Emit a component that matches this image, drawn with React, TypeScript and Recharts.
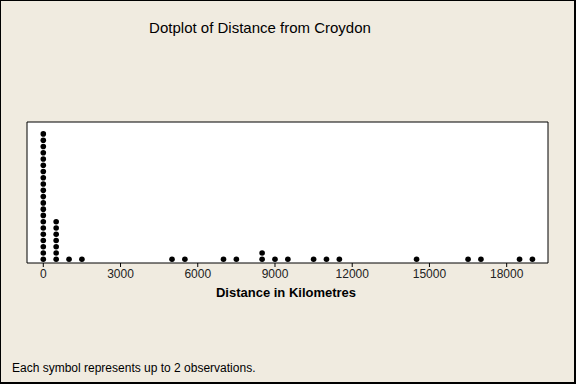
import React from "react";
import { ScatterChart, Scatter, XAxis, YAxis, ReferenceArea } from "recharts";

// Bin positions (km) and number of symbols stacked in each bin
const binDistances = [0, 500, 1000, 1500, 5000, 5500, 7000, 7500, 8500, 9000, 9500, 10500, 11000, 11500, 14500, 16500, 17000, 18500, 19000];
const symbolCounts = [21, 7, 1, 1, 1, 1, 1, 1, 2, 1, 1, 1, 1, 1, 1, 1, 1, 1, 1];
const xTicks = [0, 3000, 6000, 9000, 12000, 15000, 18000];

const title = "Dotplot of Distance from Croydon";
const xLabel = "Distance in Kilometres";
const footnote = "Each symbol represents up to 2 observations.";

const points: { x: number; level: number }[] = [];
binDistances.forEach((d, i) => {
  for (let k = 0; k < symbolCounts[i]; k++) points.push({ x: d, level: k });
});

const X_MIN = -633;
const X_MAX = 19605;
const Y_MIN = -0.59;
const Y_MAX = 21.9;
const FONT = "'Liberation Sans', Arial, sans-serif";

const Dot = (props: any) => <circle cx={props.cx} cy={props.cy} r={2.8} fill="#000" />;

export default function App() {
  return (
    <div style={{ position: "absolute", left: 0, top: 0, width: 576, height: 384, background: "#F0EBE0", fontFamily: FONT }}>
      <div style={{ position: "absolute", left: 0, top: 0 }}>
        <ScatterChart width={576} height={384} margin={{ top: 122, right: 28, bottom: 91, left: 27 }}>
          <XAxis
            type="number"
            dataKey="x"
            domain={[X_MIN, X_MAX]}
            ticks={xTicks}
            allowDataOverflow
            height={30}
            axisLine={false}
            tickLine={{ stroke: "#000" }}
            tickSize={4}
            tick={{ fontSize: 12, fill: "#222", fontFamily: FONT }}
            interval={0}
          />
          <YAxis type="number" dataKey="level" domain={[Y_MIN, Y_MAX]} allowDataOverflow hide width={0} />
          <ReferenceArea x1={X_MIN} x2={X_MAX} y1={Y_MIN} y2={Y_MAX} fill="#fff" fillOpacity={1} stroke="#000" strokeWidth={1} />
          <Scatter data={points} shape={Dot} isAnimationActive={false} />
        </ScatterChart>
      </div>
      <div style={{ position: "absolute", left: 260, top: 20, transform: "translateX(-50%)", whiteSpace: "nowrap", fontSize: 15, lineHeight: "15px", color: "#000" }}>
        {title}
      </div>
      <div style={{ position: "absolute", left: 286, top: 286, transform: "translateX(-50%)", whiteSpace: "nowrap", fontSize: 13, lineHeight: "13px", fontWeight: "bold", color: "#000" }}>
        {xLabel}
      </div>
      <div style={{ position: "absolute", left: 12, top: 361.5, whiteSpace: "nowrap", fontSize: 12, lineHeight: "12px", color: "#000" }}>
        {footnote}
      </div>
      <div
        style={{
          position: "absolute",
          left: 0,
          top: 0,
          width: 576,
          height: 384,
          boxSizing: "border-box",
          borderTop: "1px solid #000",
          borderLeft: "1px solid #000",
          borderRight: "2px solid #000",
          borderBottom: "2px solid #000",
          pointerEvents: "none",
        }}
      />
    </div>
  );
}
